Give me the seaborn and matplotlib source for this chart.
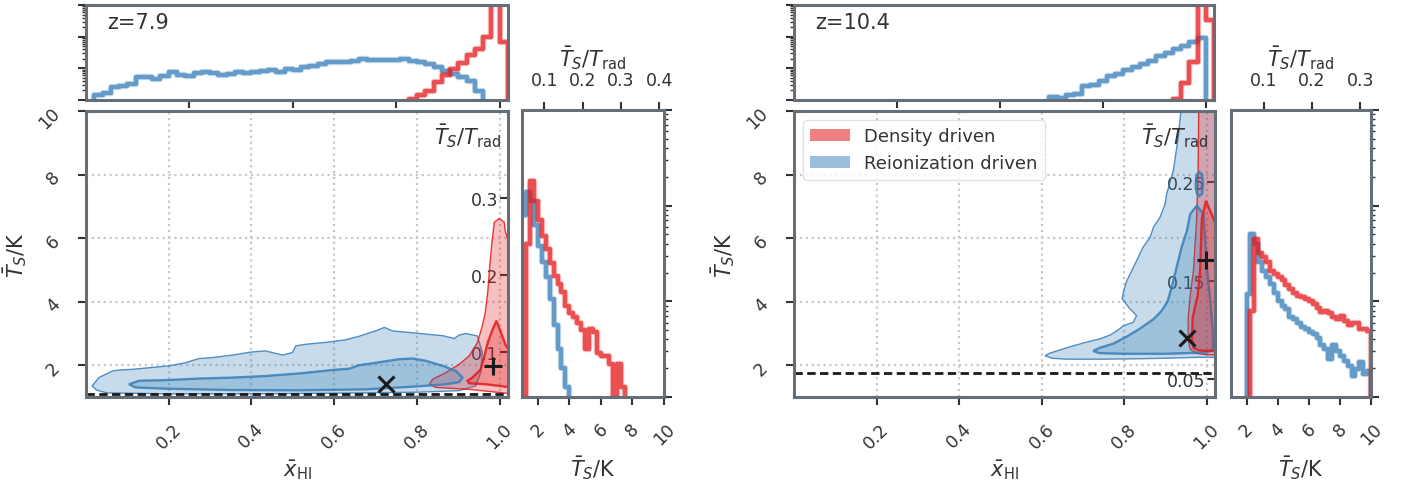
import numpy as np
import pandas as pd
import matplotlib
matplotlib.use("Agg")
import matplotlib.pyplot as plt
import matplotlib.patheffects as pe
import seaborn as sns
from matplotlib.colors import to_rgba
from matplotlib.patches import Patch

# ---- panel info ----
redshift_labels = ["z=7.9", "z=10.4"]
t_rad = [24.25, 31.07]          # T_rad = 2.725 (1+z) K
t_floor = [1.1, 1.75]           # dashed reference level in K
trad_ticks_main = [[0.1, 0.2, 0.3], [0.05, 0.15, 0.25]]
trad_ticks_side = [[0.1, 0.2, 0.3, 0.4], [0.1, 0.2, 0.3]]

# ---- marginal histograms ----
xhi_binwidth, xhi_range = 0.02, (0.0, 1.04)     # 52 bins
ts_binwidth, ts_range = 0.25, (1.0, 10.25)      # 37 bins
xhi_centers = np.arange(0.01, 1.04, 0.02)
ts_centers = np.arange(1.125, 10.25, 0.25)

xhi_blue_z79 = [0, 1.4, 1.7, 2.5, 2.8, 3.2, 5.5, 5.2, 4.6, 5.6, 7.4, 6.2, 5.9, 7.1, 7.4, 7.1,
                6.2, 6.6, 7.8, 7.1, 7.8, 8.5, 9.1, 7.8, 9.5, 9.1, 10.7, 12, 13.8, 15.5, 16.2,
                15.5, 17.4, 19.5, 18.2, 18.6, 18.2, 18.6, 19.5, 17.4, 16.2, 13.8, 10.7, 8.5,
                6.6, 5.2, 4.1, 1.9, 0, 0, 0, 0]
xhi_red_z79 = [0] * 39 + [1.1, 1.45, 1.95, 3.6, 6.2, 9.5, 14.8, 26, 41, 95, 1500, 66] + [0]
xhi_blue_z104 = [0] * 31 + [1.2, 1.15, 1.4, 1.55, 2.8, 3.0, 4.1, 5.6, 6.6, 9.1, 10.7, 13.8,
                            17.4, 24, 30, 41, 52, 69, 90] + [0, 0]
xhi_red_z104 = [0] * 46 + [1.1, 3.5, 16, 1500, 330] + [0]

ts_blue_z79 = [79, 138, 112, 63, 38, 26, 17.8, 10.5, 5.6, 3.2, 2.0, 1.26] + [0] * 25
ts_red_z79 = [0, 40, 182, 112, 71, 48, 35, 25, 18.2, 15.1, 12.6, 8.9, 7.6, 6.9, 5.9, 5.0, 3.2,
              5.2, 4.8, 2.9, 2.7, 2.7, 2.2, 0, 2.2, 1.26] + [0] * 11
ts_blue_z104 = [0] * 4 + [12, 50, 40, 26, 21, 17.8, 15.1, 12.3, 10, 8.9, 8.3, 6.9, 6.6, 6.0,
                          5.4, 5.1, 4.8, 4.6, 4.1, 3.5, 3.2, 2.5, 3.5, 3.0, 2.7, 2.4, 2.1,
                          1.66, 1.95, 2.3, 1.74, 1.86] + [0]
ts_red_z104 = [0] * 5 + [8, 45, 32, 29, 26, 21, 19.5, 17.8, 16.6, 14.8, 13.5, 12.3, 11.5, 11.2,
                         10.7, 10, 9.3, 8.5, 7.8, 7.9, 7.6, 6.9, 6.6, 7.1, 6.3, 5.6, 6.0, 6.0,
                         5.2, 5.1, 4.9] + [0]

# ---- 2D contour outlines (x_HI, T_S) ----
z79_blue_outer_x = [0.015, 0.031, 0.064, 0.080, 0.112, 0.160, 0.201, 0.241, 0.273, 0.305, 0.354,
                    0.402, 0.434, 0.475, 0.499, 0.507, 0.531, 0.580, 0.628, 0.660, 0.676, 0.700,
                    0.721, 0.741, 0.781, 0.821, 0.862, 0.890, 0.902, 0.918, 0.946, 0.958, 0.954,
                    0.942, 0.902, 0.800, 0.596, 0.400, 0.200, 0.050, 0.025]
z79_blue_outer_y = [1.35, 1.61, 1.82, 1.85, 1.87, 1.93, 1.98, 2.08, 2.21, 2.24, 2.32, 2.42, 2.45,
                    2.32, 2.40, 2.61, 2.66, 2.72, 2.80, 2.91, 2.98, 3.08, 3.19, 3.08, 3.03, 2.98,
                    2.93, 2.84, 2.95, 3.00, 2.92, 2.40, 1.77, 1.35, 1.20, 1.15, 1.12, 1.10, 1.10,
                    1.13, 1.22]
z79_blue_inner_x = [0.104, 0.128, 0.193, 0.273, 0.354, 0.434, 0.515, 0.596, 0.636, 0.660, 0.692,
                    0.757, 0.789, 0.821, 0.862, 0.894, 0.910, 0.902, 0.870, 0.797, 0.676, 0.515,
                    0.354, 0.193, 0.120]
z79_blue_inner_y = [1.40, 1.51, 1.53, 1.58, 1.61, 1.66, 1.74, 1.85, 1.89, 2.00, 2.06, 2.19, 2.21,
                    2.14, 1.98, 1.82, 1.61, 1.47, 1.40, 1.33, 1.24, 1.21, 1.22, 1.26, 1.30]
z79_red_outer_x = [0.830, 0.838, 0.870, 0.902, 0.926, 0.946, 0.958, 0.965, 0.971, 0.976, 0.981,
                   0.987, 0.999, 1.011, 1.013, 1.030, 1.030, 0.926, 0.846]
z79_red_outer_y = [1.40, 1.56, 1.77, 2.03, 2.29, 2.71, 3.24, 3.66, 4.29, 5.13, 5.86, 6.50, 6.62,
                   6.50, 6.24, 5.50, 1.10, 1.24, 1.30]
z79_red_inner_x = [0.922, 0.934, 0.954, 0.963, 0.971, 0.983, 0.992, 1.003, 1.015, 1.030, 1.030,
                   0.967, 0.926]
z79_red_inner_y = [1.51, 1.61, 1.87, 2.29, 2.71, 3.13, 3.40, 3.03, 2.61, 2.40, 1.30, 1.40, 1.43]

z104_blue_outer_x = [0.608, 0.620, 0.661, 0.701, 0.741, 0.766, 0.782, 0.798, 0.822, 0.830, 0.812,
                     0.795, 0.800, 0.806, 0.826, 0.846, 0.863, 0.871, 0.887, 0.899, 0.903, 0.919,
                     0.931, 0.939, 0.942, 1.040, 1.040, 0.984, 0.903, 0.822, 0.741, 0.660, 0.625]
z104_blue_outer_y = [2.30, 2.38, 2.55, 2.70, 2.83, 2.95, 3.08, 3.24, 3.35, 3.56, 3.80, 4.10, 4.40,
                     4.65, 5.18, 5.72, 6.03, 6.35, 6.66, 7.07, 7.39, 8.12, 9.18, 10.2, 10.5, 10.5,
                     2.25, 2.25, 2.22, 2.20, 2.19, 2.19, 2.22]
z104_blue_inner_x = [0.725, 0.741, 0.774, 0.806, 0.838, 0.871, 0.890, 0.905, 0.915, 0.927, 0.939,
                     0.952, 0.960, 0.976, 0.992, 1.001, 1.008, 1.015, 1.015, 1.000, 0.900, 0.800,
                     0.740]
z104_blue_inner_y = [2.45, 2.55, 2.68, 2.90, 3.15, 3.45, 3.70, 4.00, 4.45, 5.08, 5.71, 6.23, 6.76,
                     7.02, 6.76, 4.98, 4.13, 3.00, 2.50, 2.40, 2.36, 2.36, 2.38]
z104_blue_island_x = [0.973, 0.976, 0.982, 0.989, 0.991, 0.989, 0.982, 0.976]
z104_blue_island_y = [7.70, 8.00, 8.08, 8.00, 7.70, 7.40, 7.32, 7.40]
z104_red_outer_x = [0.981, 0.979, 0.975, 0.968, 0.960, 0.955, 0.955, 0.960, 0.975, 1.000, 1.040,
                    1.040]
z104_red_outer_y = [10.5, 8.0, 6.5, 5.0, 4.2, 3.5, 2.8, 2.5, 2.37, 2.33, 2.33, 10.5]
z104_red_inner_x = [0.998, 0.988, 0.984, 0.978, 0.966, 0.964, 0.968, 0.980, 1.000, 1.040, 1.040,
                    1.020, 1.012]
z104_red_inner_y = [7.17, 6.60, 5.00, 4.20, 3.50, 2.80, 2.55, 2.47, 2.45, 2.45, 6.00, 6.50, 6.75]

# best-fit markers (x_HI, T_S)
cross_pts = [(0.725, 1.42), (0.952, 2.87)]
plus_pts = [(0.983, 1.98), (0.998, 5.31)]

# ---- style ----
spine_col = "#666e78"
sns.set_theme(style="ticks", rc={
    "axes.labelsize": 15,
    "xtick.labelsize": 12.5,
    "ytick.labelsize": 12.5,
    "axes.edgecolor": spine_col,
    "axes.linewidth": 2.2,
    "text.color": ".2",
    "axes.labelcolor": ".2",
    "xtick.color": ".2",
    "ytick.color": ".2",
})
plt.rcParams["font.family"] = ["DejaVu Sans"]
plt.rcParams["mathtext.fontset"] = "dejavusans"

red, blue = sns.color_palette("Set1")[:2]

W, H = 1406, 485
fig = plt.figure(figsize=(W / 100, H / 100), dpi=100)


def box(l, t, r, b):
    return [l / W, 1 - b / H, (r - l) / W, (b - t) / H]


def step_hist(ax, centers, counts, binwidth, binrange, color):
    df = pd.DataFrame({"x": centers, "w": np.asarray(counts, dtype=float)})
    halo = [pe.Stroke(linewidth=4.6, foreground=to_rgba(color, 0.22)), pe.Normal()]
    sns.histplot(data=df, x="x", weights="w", binwidth=binwidth, binrange=binrange,
                 element="step", fill=False, color=color, alpha=0.7, linewidth=3.2,
                 path_effects=halo, ax=ax)


layout = [
    dict(top=(86, 6, 508, 101), main=(86, 112, 508, 398), side=(522, 111, 664, 398)),
    dict(top=(794, 6, 1214, 101), main=(794, 112, 1215, 398), side=(1231, 111, 1371, 398)),
]
top_hists = [(xhi_blue_z79, xhi_red_z79), (xhi_blue_z104, xhi_red_z104)]
side_hists = [(ts_blue_z79, ts_red_z79), (ts_blue_z104, ts_red_z104)]
contours = [
    [(z79_blue_outer_x, z79_blue_outer_y, blue, 1.0), (z79_red_outer_x, z79_red_outer_y, red, 1.0),
     (z79_blue_inner_x, z79_blue_inner_y, blue, 1.7), (z79_red_inner_x, z79_red_inner_y, red, 1.7)],
    [(z104_blue_outer_x, z104_blue_outer_y, blue, 1.0), (z104_red_outer_x, z104_red_outer_y, red, 1.0),
     (z104_blue_inner_x, z104_blue_inner_y, blue, 1.7), (z104_blue_island_x, z104_blue_island_y, blue, 1.7),
     (z104_red_inner_x, z104_red_inner_y, red, 1.7)],
]

for i in range(2):
    ax_top = fig.add_axes(box(*layout[i]["top"]))
    ax_main = fig.add_axes(box(*layout[i]["main"]))
    ax_side = fig.add_axes(box(*layout[i]["side"]))
    tr = t_rad[i]

    # --- top marginal: x_HI histogram ---
    for counts, c in zip(top_hists[i], [blue, red]):
        step_hist(ax_top, xhi_centers, counts, xhi_binwidth, xhi_range, c)
    ax_top.set_yscale("log")
    ax_top.set_xlim(0, 1.02)
    ax_top.set_ylim(1, 1000)
    ax_top.set_xticks([0.25, 0.5, 0.75, 1.0])
    ax_top.set_xticklabels([])
    ax_top.tick_params(axis="y", which="both", labelleft=False)
    ax_top.tick_params(which="major", length=6, width=1.5)
    ax_top.tick_params(which="minor", length=3, width=1)
    ax_top.set_xlabel("")
    ax_top.set_ylabel("")
    ax_top.text(0.05, 0.93, redshift_labels[i], transform=ax_top.transAxes, va="top", fontsize=15)

    # --- main joint panel ---
    for cx, cy, c, lw in contours[i]:
        ax_main.fill(cx, cy, facecolor=to_rgba(c, 0.28), edgecolor=to_rgba(c, 0.85), linewidth=lw)
    ax_main.axhline(t_floor[i], color="k", ls=(0, (3, 1.6)), lw=2)
    ax_main.plot(*cross_pts[i], marker="x", color="k", ms=11, mew=2.2)
    ax_main.plot(*plus_pts[i], marker="+", color="k", ms=13, mew=2.2)
    ax_main.set_xlim(0, 1.02)
    ax_main.set_ylim(1, 10)
    ax_main.set_xticks([0.2, 0.4, 0.6, 0.8, 1.0])
    ax_main.set_yticks([2, 4, 6, 8, 10])
    ax_main.grid(True, ls=":", lw=1.6, color="#c8c8c8")
    ax_main.tick_params(axis="x", rotation=45, pad=10, length=6, width=1.5)
    ax_main.tick_params(axis="y", rotation=45, pad=10, length=6, width=1.5)
    ax_main.set_xlabel(r"$\bar{x}_{\rm HI}$")
    ax_main.set_ylabel(r"$\bar{T}_S$/K", labelpad=5)
    ax_main.text(0.985, 0.965, r"$\bar{T}_S/T_{\rm rad}$", transform=ax_main.transAxes,
                 ha="right", va="top", fontsize=15)
    sec = ax_main.secondary_yaxis("right", functions=(lambda t, tr=tr: t / tr,
                                                      lambda r, tr=tr: r * tr))
    sec.set_yticks(trad_ticks_main[i], labels=[f"{v:g}" for v in trad_ticks_main[i]], ha="right")
    sec.tick_params(direction="in", length=6, width=1.5, pad=-7)
    sec.spines["right"].set_visible(False)

    if i == 1:
        handles = [Patch(facecolor=to_rgba(red, 0.55), edgecolor="none", label="Density driven"),
                   Patch(facecolor=to_rgba(blue, 0.5), edgecolor="none", label="Reionization driven")]
        ax_main.legend(handles=handles, loc="upper left", fontsize=13, handlelength=2.2,
                       framealpha=0.85, edgecolor="#dddddd")

    # --- side marginal: T_S histogram ---
    for counts, c in zip(side_hists[i], [blue, red]):
        step_hist(ax_side, ts_centers, counts, ts_binwidth, ts_range, c)
    ax_side.set_yscale("log")
    ax_side.set_xlim(1, 10)
    ax_side.set_ylim(1, 1000)
    ax_side.yaxis.tick_right()
    ax_side.tick_params(axis="y", which="both", labelright=False, labelleft=False)
    ax_side.tick_params(axis="y", which="major", length=6, width=1.5)
    ax_side.tick_params(axis="y", which="minor", length=3, width=1)
    ax_side.set_xticks([2, 4, 6, 8, 10])
    ax_side.tick_params(axis="x", rotation=45, pad=10, length=6, width=1.5)
    ax_side.set_xlabel(r"$\bar{T}_S$/K")
    ax_side.set_ylabel("")
    sec2 = ax_side.secondary_xaxis("top", functions=(lambda t, tr=tr: t / tr,
                                                     lambda r, tr=tr: r * tr))
    sec2.set_xticks(trad_ticks_side[i], labels=[f"{v:g}" for v in trad_ticks_side[i]])
    sec2.tick_params(length=6, width=1.5, pad=9)
    sec2.set_xlabel(r"$\bar{T}_S/T_{\rm rad}$")
    sec2.spines["top"].set_visible(False)

fig.savefig("out.png", dpi=100)
